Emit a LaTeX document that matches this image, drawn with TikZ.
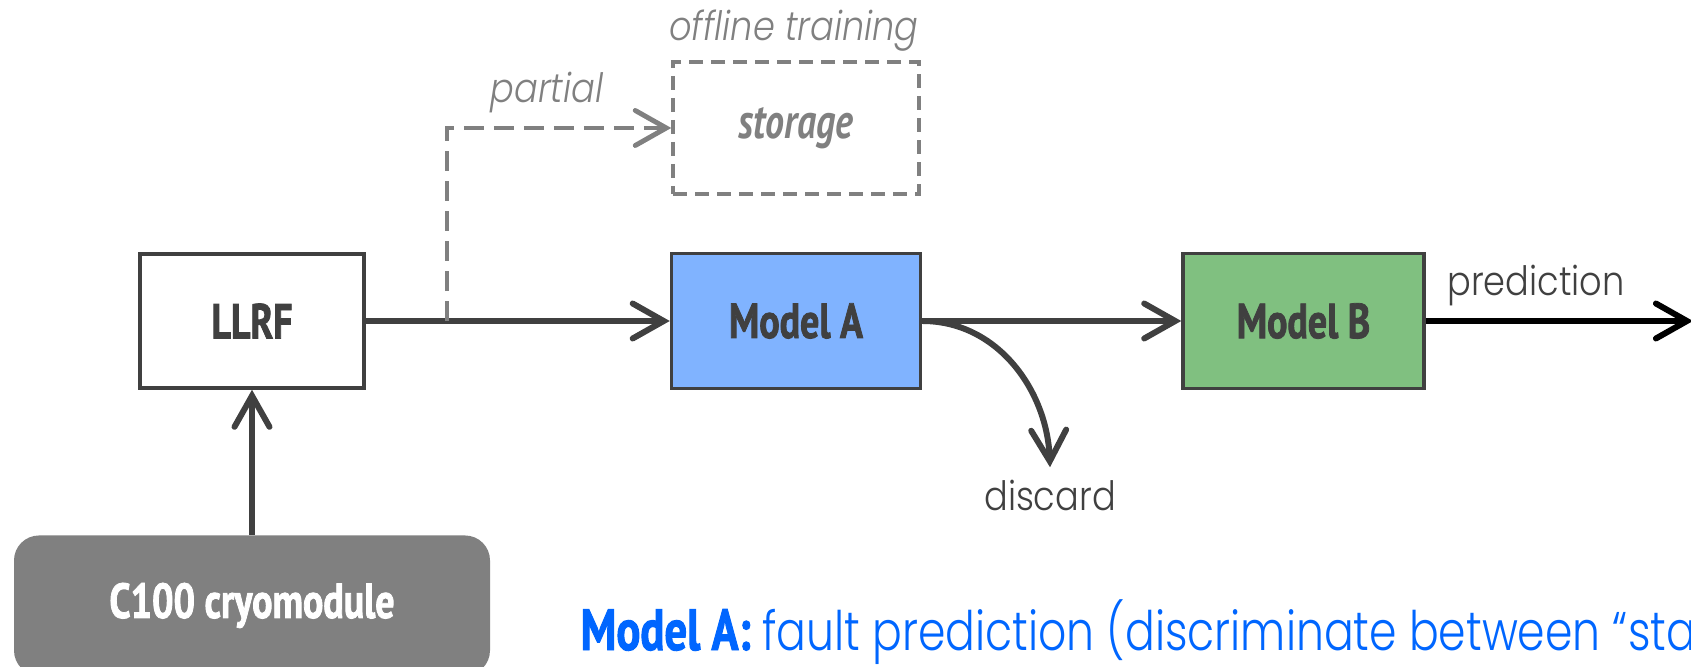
\documentclass[tikz,border=0pt]{standalone}
\usepackage{fontspec}
\usepackage{xcolor}
\usepackage{tikz}
\usetikzlibrary{arrows.meta,positioning}
\newfontfamily\condfont[FakeStretch=0.77, BoldFeatures={FakeBold=1.6}]{PT Sans}
\newfontfamily\lightfont[FakeStretch=0.87, UprightFont={* Light}, ItalicFont={* Light Italic}]{Poppins}
\newfontfamily\notefont[FakeStretch=0.81, UprightFont={* Light}]{Poppins}
\definecolor{lineGray}{HTML}{404040}
\definecolor{dashGray}{HTML}{808080}
\definecolor{modelAblue}{HTML}{80B3FF}
\definecolor{modelBgreen}{HTML}{80C080}
\definecolor{noteBlue}{HTML}{0066FF}

\begin{document}
\begin{tikzpicture}[
  node distance=5.6mm and 30.4mm,
  box/.style={draw=lineGray, line width=1pt, align=center, minimum height=13.5mm,
              minimum width=24.9mm, font=\condfont\bfseries\fontsize{14}{16}\selectfont,
              text=lineGray, inner sep=0pt},
  modelbox/.style={box, fill=modelAblue},
  label/.style={font=\lightfont\fontsize{11.5}{13}\selectfont, text=lineGray},
  flow/.style={draw=lineGray, line width=1.7pt,
               -{Straight Barb[length=3.1mm,width=3.5mm,line cap=round]}},
]
\useasboundingbox (0,0) rectangle (16.91,-6.67);

\node[box, minimum width=22.4mm, minimum height=13.4mm] (llrf) at (2.52,-3.21) {LLRF};
\node[modelbox, right=of llrf] (modelA) {Model A};
\node[modelbox, fill=modelBgreen, minimum width=24.1mm, right=25.9mm of modelA] (modelB) {Model B};
\node[box, draw=dashGray, dashed, dash pattern=on 1.4mm off 0.8mm, text=dashGray,
      minimum width=24.6mm, minimum height=13.2mm, font=\condfont\bfseries\itshape\fontsize{14}{16}\selectfont,
      above=of modelA] (storage) {storage};
\node[draw=none, fill=dashGray, rounded corners=2.5mm, minimum width=47.6mm, minimum height=14mm,
      font=\condfont\bfseries\fontsize{14}{16}\selectfont, text=white, inner sep=0pt,
      below=14.5mm of llrf] (cryo) {C100 cryomodule};

% labels
\node[label, text=dashGray, font=\lightfont\itshape\fontsize{11.5}{13}\selectfont] (offline) at (7.94,-0.31) {offline training};
\node[label, text=dashGray, font=\lightfont\itshape\fontsize{11.5}{13}\selectfont] (partial) at (5.47,-0.93) {partial};
\node[label] (discard) at (10.50,-4.95) {discard};
\node[label] (predlabel) at (15.36,-2.86) {prediction};
\coordinate (tap) at (4.47,-3.21);
\coordinate (predend) at (16.93,-3.21);

% connectors
\draw[flow] (cryo) -- (llrf);
\draw[flow] (llrf) -- (modelA);
\draw[flow] (modelA) -- (modelB);
\draw[flow, draw=black] (modelB) -- (predend);
\draw[flow] (modelA.east) to[out=0,in=92] (discard.north);
\draw[flow, draw=dashGray, line width=1.4pt, dash pattern=on 2mm off 1mm] (tap) |- (storage.west);

% note
\node[anchor=base west, inner sep=0pt, text=noteBlue] (note) at (5.80,-6.50)
  {{\condfont\bfseries\fontsize{16.5}{18}\selectfont Model A:}\hspace{1.2mm}{\notefont\fontsize{15.5}{18}\selectfont fault prediction (discriminate between “sta}};
\end{tikzpicture}
\end{document}
